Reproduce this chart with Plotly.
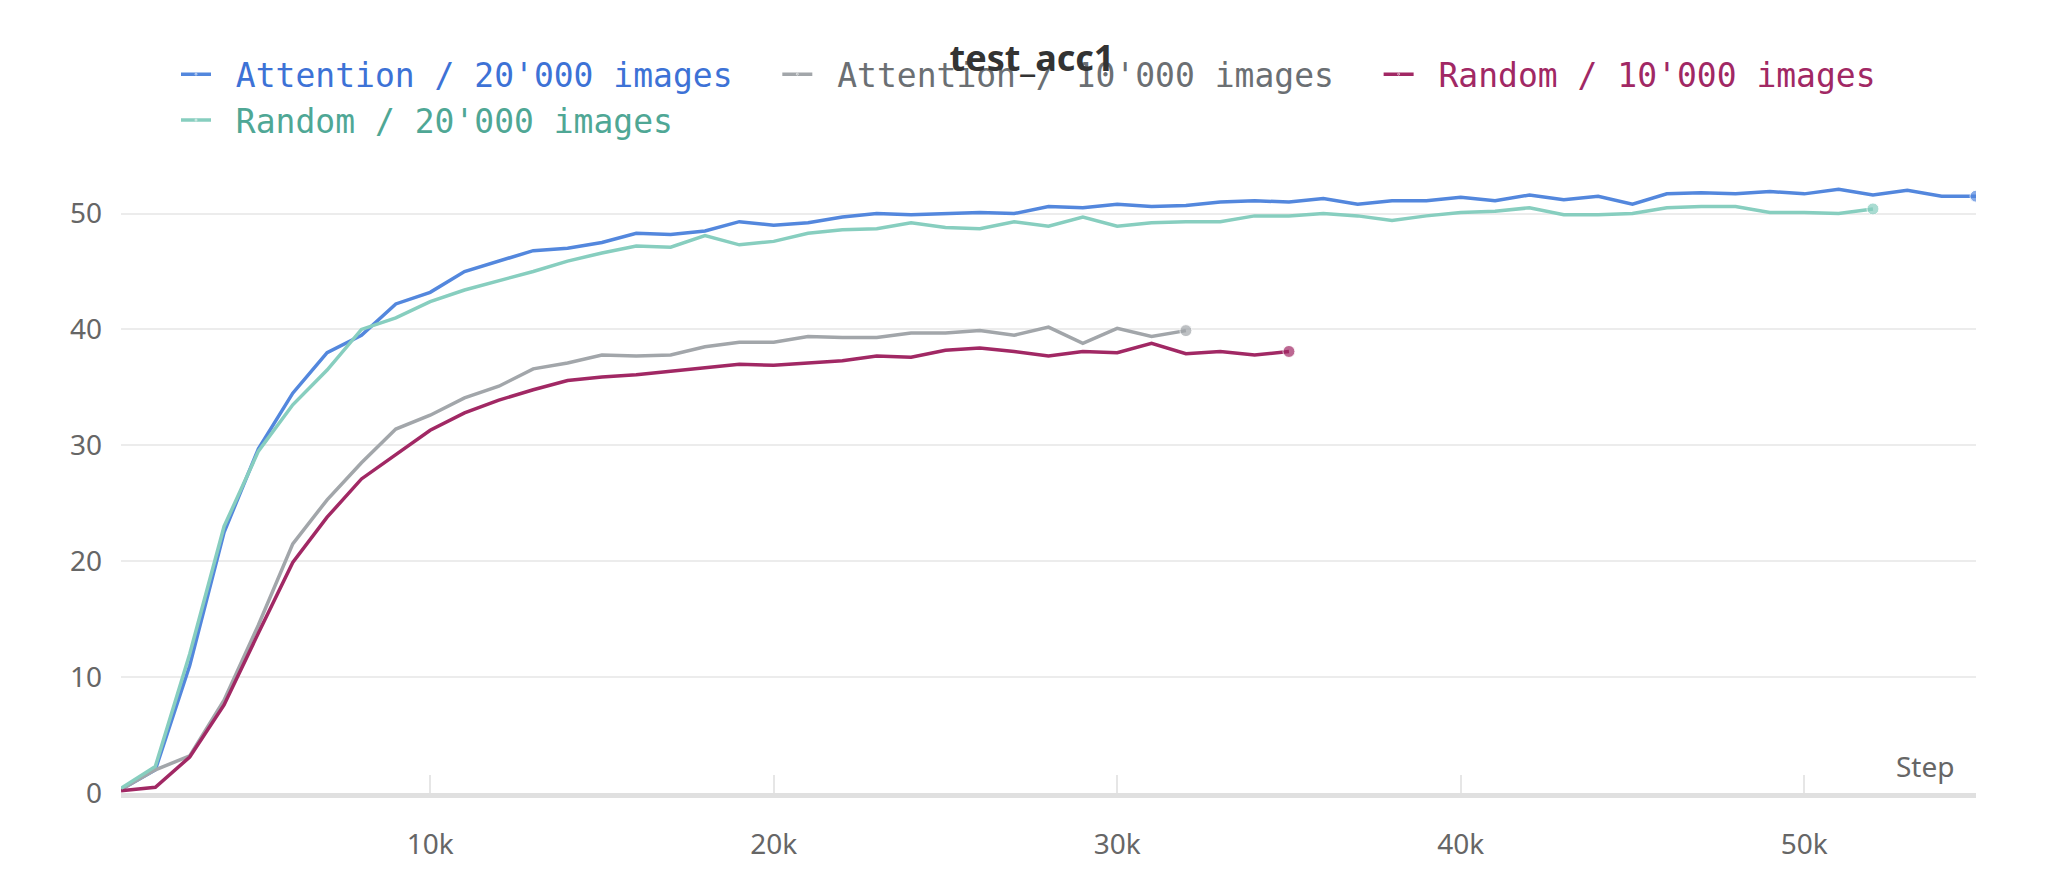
import plotly.graph_objects as go

att20 = [0.3,2,11,22.5,29.7,34.5,38,39.5,42.2,43.2,45,45.9,46.8,47,47.5,48.3,48.2,48.5,49.3,49,49.2,49.7,50,49.9,50,50.1,50,50.6,50.5,50.8,50.6,50.7,51,51.1,51,51.3,50.8,51.1,51.1,51.4,51.1,51.6,51.2,51.5,50.8,51.7,51.8,51.7,51.9,51.7,52.1,51.6,52,51.5,51.5]
rnd20 = [0.4,2.3,12,23,29.5,33.5,36.5,40,41,42.4,43.4,44.2,45,45.9,46.6,47.2,47.1,48.1,47.3,47.6,48.3,48.6,48.7,49.2,48.8,48.7,49.3,48.9,49.7,48.9,49.2,49.3,49.3,49.8,49.8,50,49.8,49.4,49.8,50.1,50.2,50.5,49.9,49.9,50,50.5,50.6,50.6,50.1,50.1,50,50.4]
att10 = [0.3,2,3.2,8,14.5,21.5,25.3,28.5,31.4,32.6,34.1,35.1,36.6,37.1,37.8,37.7,37.8,38.5,38.9,38.9,39.4,39.3,39.3,39.7,39.7,39.9,39.5,40.2,38.8,40.1,39.4,39.9]
rnd10 = [0.2,0.5,3.1,7.6,13.8,19.9,23.8,27.1,29.2,31.3,32.8,33.9,34.8,35.6,35.9,36.1,36.4,36.7,37,36.9,37.1,37.3,37.7,37.6,38.2,38.4,38.1,37.7,38.1,38,38.8,37.9,38.1,37.8,38.1]

series = [
    ("Attention / 20'000 images", att20, "#5387DD", "#3d72d6"),
    ("Attention / 10'000 images", att10, "#A2A6AA", "#6b6f73"),
    ("Random / 10'000 images", rnd10, "#A12864", "#A12864"),
    ("Random / 20'000 images", rnd20, "#87CEBF", "#4fa795"),
]

fig = go.Figure()
for name, ys, col, tcol in series:
    xs = [1000 * (i + 1) for i in range(len(ys))]
    n = len(ys)
    fig.add_trace(go.Scatter(
        x=xs, y=ys, mode="lines+markers",
        name=f"<span style='color:{tcol}'> {name}</span>&nbsp;&nbsp;",
        line=dict(color=col, width=3.5),
        marker=dict(size=[0] * (n - 1) + [12], color=col),
    ))

fig.update_layout(
    width=2048, height=890,
    paper_bgcolor="white", plot_bgcolor="white",
    margin=dict(l=113, r=80, t=165, b=105),
    title=dict(text="<b>test_acc1</b>", x=0.5, xanchor="center", y=0.958,
               font=dict(family="Noto Sans", size=36, color="#333")),
    legend=dict(orientation="h", x=0.5, xanchor="center", y=1.04, yanchor="bottom",
                font=dict(family="DejaVu Sans Mono", size=33), itemwidth=30,
                traceorder="normal"),
    xaxis=dict(range=[1000, 55000], tickvals=[10000, 20000, 30000, 40000, 50000],
               ticktext=["10k", "20k", "30k", "40k", "50k"], showgrid=False,
               ticks="inside", ticklen=18, tickcolor="#e6e6e6", tickwidth=2,
               showline=True, linecolor="#e0e0e0", linewidth=5,
               ticklabelstandoff=22, zeroline=False,
               tickfont=dict(family="Noto Sans", size=28, color="#666")),
    yaxis=dict(range=[0, 53.5], tickvals=[0, 10, 20, 30, 40, 50], gridcolor="#ececec",
               gridwidth=1.5, zeroline=False, ticklabelstandoff=18,
               tickfont=dict(family="Noto Sans", size=28, color="#666")),
    annotations=[dict(text="Step", xref="paper", yref="paper", x=0.99, y=0.01,
                      xanchor="right", yanchor="bottom", showarrow=False,
                      font=dict(family="Noto Sans", size=28, color="#666"))],
)
fig.write_html("out.html")
